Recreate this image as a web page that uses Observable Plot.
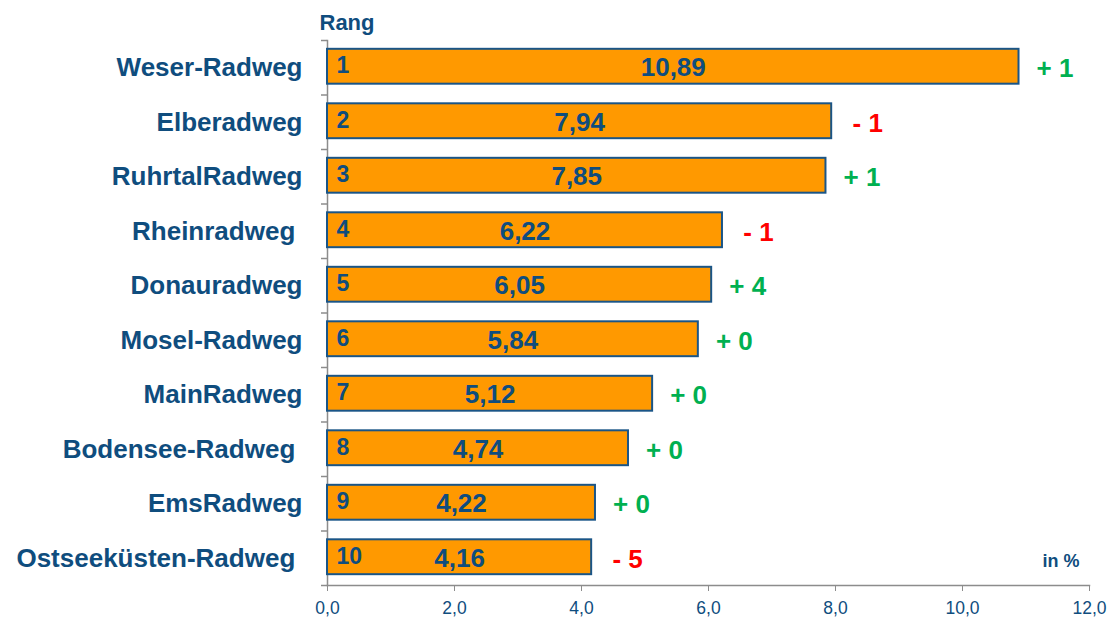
<!DOCTYPE html>
<html>
<head>
<meta charset="utf-8">
<script src="https://cdn.jsdelivr.net/npm/d3@7"></script>
<script src="https://cdn.jsdelivr.net/npm/@observablehq/plot@0.6"></script>
<style>
  html, body { margin: 0; padding: 0; background: #fff; }
  #chart { width: 1107px; height: 623px; }
</style>
</head>
<body>
<div id="chart"></div>
<script>
const routes = ["Weser-Radweg", "Elberadweg", "RuhrtalRadweg", "Rheinradweg ", "Donauradweg", "Mosel-Radweg", "MainRadweg", "Bodensee-Radweg ", "EmsRadweg", "Ostseeküsten-Radweg "];
const shares = [10.89, 7.94, 7.85, 6.22, 6.05, 5.84, 5.12, 4.74, 4.22, 4.16];
const ranks = [1, 2, 3, 4, 5, 6, 7, 8, 9, 10];
const changes = ["+ 1", "- 1", "+ 1", "- 1", "+ 4", "+ 0", "+ 0", "+ 0", "+ 0", "- 5"];
const xTicks = [0, 2, 4, 6, 8, 10, 12];

const data = routes.map((r, i) => ({route: r, share: shares[i], rank: ranks[i], change: changes[i]}));
const blue = "#0F4D7E";
const font = "'Liberation Sans', Arial, sans-serif";
const fmt = d => d.toFixed(2).replace(".", ",");
const step = (585 - 40) / routes.length;

const chart = Plot.plot({
  width: 1107,
  height: 623,
  marginTop: 40,
  marginBottom: 38,
  marginLeft: 327,
  marginRight: 18,
  style: {fontFamily: font, background: "#fff"},
  x: {domain: [0, 12]},
  y: {domain: routes, paddingInner: 0.36, paddingOuter: 0.18, round: false},
  marks: [
    Plot.frame({anchor: "left", stroke: "#8c8c8c", strokeWidth: 1.5}),
    Plot.frame({anchor: "bottom", stroke: "#8c8c8c", strokeWidth: 1.5}),
    Plot.ruleY(routes, {y: d => d, x1: 0, x2: 0, insetLeft: -6, dy: -step / 2, stroke: "#8c8c8c", strokeWidth: 1.5}),
    Plot.ruleY(routes.slice(-1), {y: d => d, x1: 0, x2: 0, insetLeft: -6, dy: step / 2, stroke: "#8c8c8c", strokeWidth: 1.5}),
    Plot.axisX({ticks: xTicks, tickFormat: d => d.toFixed(1).replace(".", ","), tickSize: 6, tickPadding: 10, stroke: "#8c8c8c", fill: blue, fontSize: 17.5, label: null}),
    Plot.axisY({tickSize: 0, tickPadding: 25, tickFormat: d => d.replace(/ $/, "\u00a0"), fill: blue, fontSize: 26, fontWeight: "bold", label: null, dy: 0}),
    Plot.barX(data, {y: "route", x: "share", fill: "#FF9900", stroke: "#1A5587", strokeWidth: 2, dy: -1}),
    Plot.text(data, {y: "route", x: d => d.share / 2, text: d => fmt(d.share), fill: blue, fontSize: 26, fontWeight: "bold", dy: 0}),
    Plot.text(data, {y: "route", x: 0, text: d => String(d.rank), textAnchor: "start", dx: 9, dy: -2, fill: blue, fontSize: 23, fontWeight: "bold"}),
    Plot.text(data, {y: "route", x: "share", text: "change", dx: 36, dy: 1, fill: d => d.change.startsWith("-") ? "#FF0000" : "#00B050", fontSize: 26, fontWeight: "bold"}),
    Plot.text(["Rang"], {frameAnchor: "top-left", lineAnchor: "middle", text: d => d, textAnchor: "start", dx: -8, dy: -18, fill: blue, fontSize: 22, fontWeight: "bold"}),
    Plot.text(["in %"], {frameAnchor: "bottom-right", lineAnchor: "middle", text: d => d, textAnchor: "end", dx: -10, dy: -24, fill: blue, fontSize: 18, fontWeight: "bold"})
  ]
});
document.getElementById("chart").appendChild(chart);
</script>
</body>
</html>
